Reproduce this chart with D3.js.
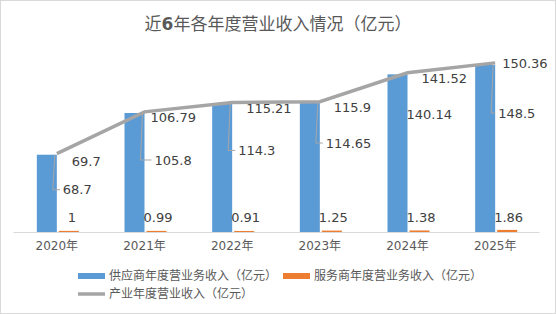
<!DOCTYPE html>
<html>
<head>
<meta charset="utf-8">
<script src="https://cdn.jsdelivr.net/npm/d3@7"></script>
<style>
  body { margin: 0; background: #fff; }
  svg text { font-family: "DejaVu Sans", "Noto Sans CJK SC", sans-serif; }
</style>
</head>
<body>
<div class="chart"></div>
<script>
var years = ["2020年", "2021年", "2022年", "2023年", "2024年", "2025年"];
var supplier = [68.7, 105.8, 114.3, 114.65, 140.14, 148.5];
var service = [1, 0.99, 0.91, 1.25, 1.38, 1.86];
var industry = [69.7, 106.79, 115.21, 115.9, 141.52, 150.36];

var svgWidth = 556;
var svgHeight = 314;
var margin = { top: 50, right: 17, bottom: 82, left: 13 };
var width = svgWidth - margin.left - margin.right;
var height = svgHeight - margin.top - margin.bottom;

var svg = d3.select(".chart")
  .append("svg")
  .attr("width", svgWidth)
  .attr("height", svgHeight);

// outer frame
svg.append("rect")
  .attr("x", 0.5).attr("y", 0.5)
  .attr("width", svgWidth - 1).attr("height", svgHeight - 1)
  .attr("fill", "#fff").attr("stroke", "#d9d9d9");

svg.append("text")
  .attr("x", svgWidth / 2)
  .attr("y", 30)
  .attr("text-anchor", "middle")
  .attr("font-size", 17)
  .attr("fill", "#595959")
  .html('近<tspan font-weight="bold">6</tspan>年各年度营业收入情况（亿元）');

var chartGroup = svg.append("g")
  .attr("transform", `translate(${margin.left}, ${margin.top})`);

var x = d3.scaleBand().domain(years).range([0, width]);
var y = d3.scaleLinear().domain([0, 161.8]).range([height, 0]);
var barW = 20;

// axis
var bottomAxis = d3.axisBottom(x).tickSize(0).tickPadding(9);
var xAxis = chartGroup.append("g")
  .attr("transform", `translate(0, ${height})`)
  .call(bottomAxis);
xAxis.select(".domain").attr("stroke", "#d9d9d9");
xAxis.selectAll("text").attr("font-size", 12).attr("fill", "#595959")
  .style("font-family", "'DejaVu Sans', 'Noto Sans CJK SC', sans-serif");

var cx = d => x(d) + x.bandwidth() / 2;

chartGroup.selectAll(".bar-a")
  .data(supplier)
  .enter().append("rect")
  .attr("x", (d, i) => cx(years[i]) - barW)
  .attr("y", d => y(d))
  .attr("width", barW)
  .attr("height", d => height - y(d))
  .attr("fill", "#5b9bd5");

chartGroup.selectAll(".bar-b")
  .data(service)
  .enter().append("rect")
  .attr("x", (d, i) => cx(years[i]) + 2)
  .attr("y", d => y(d))
  .attr("width", barW)
  .attr("height", d => height - y(d))
  .attr("fill", "#ed7d31");

var line = d3.line()
  .x((d, i) => cx(years[i]))
  .y(d => y(d));

chartGroup.append("path")
  .datum(industry)
  .attr("d", line)
  .attr("fill", "none")
  .attr("stroke", "#a5a5a5")
  .attr("stroke-width", 3.5);

// data labels: [dx from category centre, dy from value] (label anchor), leader flag
var supLabelPos = [[6, 35], [10, 47], [6, 47], [6, 40], [-1, 40], [3, 48]];
var supLeader = [true, true, true, true, false, true];
var lblColor = "#404040";

supplier.forEach(function(v, i) {
  var c = cx(years[i]);
  var lx = c + supLabelPos[i][0];
  var ly = y(v) + supLabelPos[i][1];
  if (supLeader[i]) {
    chartGroup.append("polyline")
      .attr("points", [[c - 2, y(v)], [c - 4, ly], [lx - 3, ly]].join(" "))
      .attr("fill", "none")
      .attr("stroke", "#a6a6a6")
      .attr("stroke-width", 1);
  }
  chartGroup.append("text")
    .attr("x", lx)
    .attr("y", ly)
    .attr("dy", "0.35em")
    .attr("font-size", 13)
    .attr("fill", lblColor)
    .text(v);
});

var indLabelPos = [[15, 8], [6, 6], [14, 6], [14, 6], [14, 6], [7, 1]];
industry.forEach(function(v, i) {
  chartGroup.append("text")
    .attr("x", cx(years[i]) + indLabelPos[i][0])
    .attr("y", y(v) + indLabelPos[i][1])
    .attr("dy", "0.35em")
    .attr("font-size", 13)
    .attr("fill", lblColor)
    .text(v);
});

service.forEach(function(v, i) {
  chartGroup.append("text")
    .attr("x", cx(years[i]) + (i === 0 ? 11 : -1))
    .attr("y", height - 15)
    .attr("dy", "0.35em")
    .attr("font-size", 13)
    .attr("fill", lblColor)
    .text(v);
});

// legend
var legend = svg.append("g");
var items = [
  { name: "供应商年度营业务收入（亿元）", color: "#5b9bd5", type: "rect", x: 78, y: 276 },
  { name: "服务商年度营业务收入（亿元）", color: "#ed7d31", type: "rect", x: 283, y: 276 },
  { name: "产业年度营业收入（亿元）", color: "#a5a5a5", type: "line", x: 78, y: 294 }
];
items.forEach(function(it) {
  if (it.type === "rect") {
    legend.append("rect")
      .attr("x", it.x).attr("y", it.y - 3)
      .attr("width", 27).attr("height", 6)
      .attr("fill", it.color);
  } else {
    legend.append("line")
      .attr("x1", it.x).attr("x2", it.x + 27)
      .attr("y1", it.y).attr("y2", it.y)
      .attr("stroke", it.color).attr("stroke-width", 3.5);
  }
  legend.append("text")
    .attr("x", it.x + 31)
    .attr("y", it.y)
    .attr("dy", "0.35em")
    .attr("font-size", 12)
    .attr("fill", "#595959")
    .text(it.name);
});
</script>
</body>
</html>
